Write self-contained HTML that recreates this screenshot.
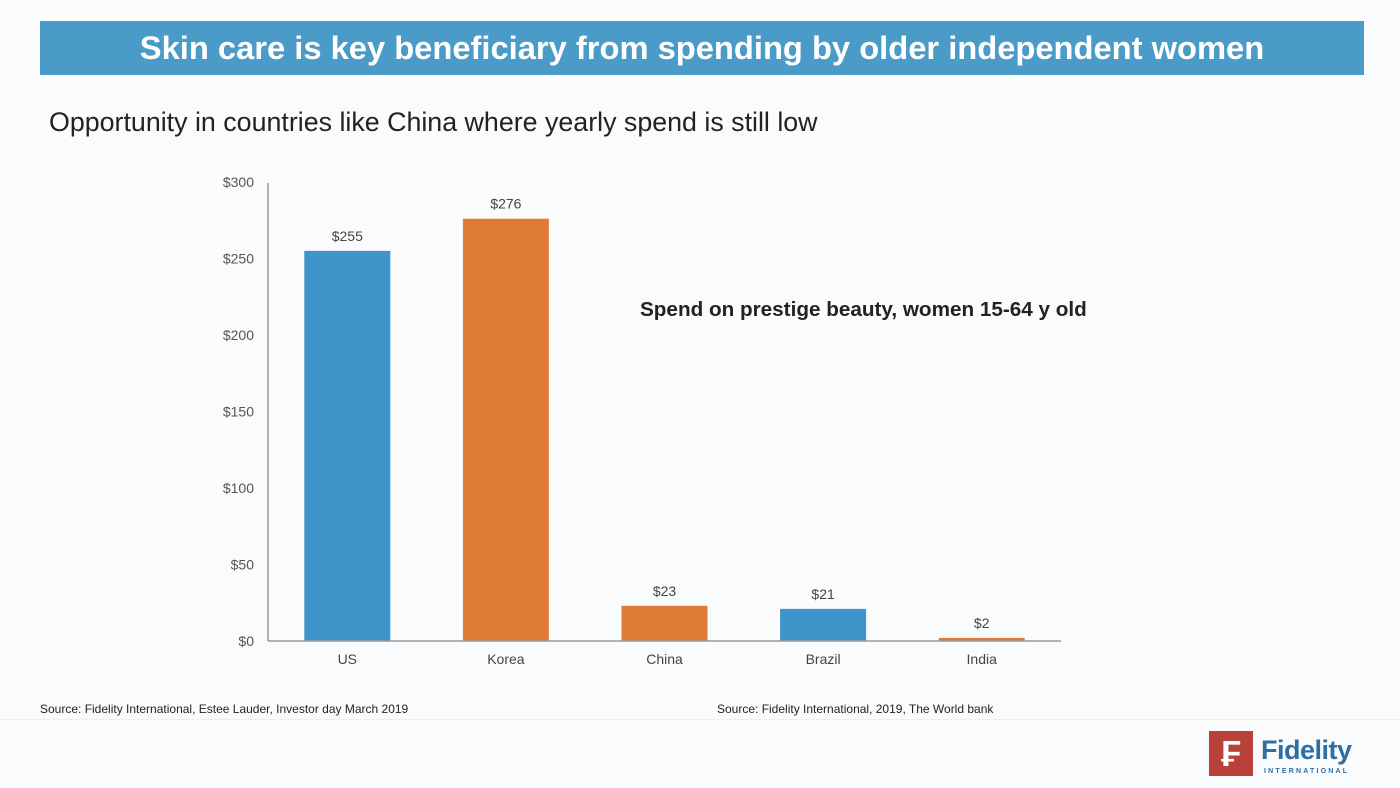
<!DOCTYPE html>
<html><head><meta charset="utf-8"><style>
body{margin:0;width:1400px;height:788px;background:#fafbfd;font-family:"Liberation Sans",sans-serif;position:relative;overflow:hidden}
.t{position:absolute}
</style></head><body>
<div class="t" style="left:40px;top:21px;width:1324px;height:54px;background:#4a9bc8;color:#fff;font-weight:bold;font-size:32.7px;text-align:center;line-height:54px">Skin care is key beneficiary from spending by older independent women</div>
<div class="t" style="left:49px;top:107px;font-size:26.8px;color:#222">Opportunity in countries like China where yearly spend is still low</div>
<svg class="t" style="left:0;top:0" width="1400" height="788">
<g id="g"></g>
<text x="640" y="316" font-size="20.7" font-weight="bold" fill="#222">Spend on prestige beauty, women 15-64 y old</text>
</svg>
<div class="t" style="left:40px;top:702px;font-size:12px;color:#222">Source: Fidelity International, Estee Lauder, Investor day March 2019</div>
<div class="t" style="left:717px;top:702px;font-size:12px;color:#222">Source: Fidelity International, 2019, The World bank</div>
<div class="t" style="left:0;top:719px;width:1400px;height:1px;background:#eceef2"></div>
<div class="t" style="left:1209px;top:731px;width:44px;height:45px;background:#b8413a;color:#fff;font-weight:bold;font-size:36px;text-align:center;line-height:45px">₣</div>
<div class="t" style="left:1261px;top:735px;font-size:27px;font-weight:bold;color:#2d6ea5;letter-spacing:-0.5px">Fidelity</div>
<div class="t" style="left:1264px;top:768px;font-size:7px;font-weight:bold;color:#2d6ea5;letter-spacing:2.2px">INTERNATIONAL</div>
<script>
const categories=["US","Korea","China","Brazil","India"];
const values=[255,276,23,21,2];
const colors=["#3d94c9","#e07b36","#e07b36","#3d94c9","#e07b36"];
const ticks=[0,50,100,150,200,250,300];
const ns="http://www.w3.org/2000/svg",g=document.getElementById("g");
const x0=268,slot=158.6,bw=86,yb=641,k=153/100;
const y=v=>yb-v*k;
function el(t,a,txt){const e=document.createElementNS(ns,t);for(const n in a)e.setAttribute(n,a[n]);if(txt!=null)e.textContent=txt;g.appendChild(e);return e;}
ticks.forEach(t=>{const e=el("text",{x:254,y:y(t)+5,"text-anchor":"end","font-size":14,fill:"#555"},"$"+t);

});
categories.forEach((c,i)=>{const cx=x0+slot*(i+0.5);
const r=el("rect",{x:cx-bw/2,y:y(values[i]),width:bw,height:values[i]*k,fill:colors[i]});


const v=el("text",{x:cx,y:y(values[i])-10,"text-anchor":"middle","font-size":14,fill:"#444"},"$"+values[i]);


const l=el("text",{x:cx,y:664,"text-anchor":"middle","font-size":14,fill:"#444"},c);

});
const ya=el("line",{x1:x0,y1:y(300)+1,x2:x0,y2:yb,stroke:"#999","stroke-width":1.5});


const xa=el("line",{x1:x0,y1:yb,x2:x0+slot*5,y2:yb,stroke:"#999","stroke-width":1.5});


</script>
</body></html>
